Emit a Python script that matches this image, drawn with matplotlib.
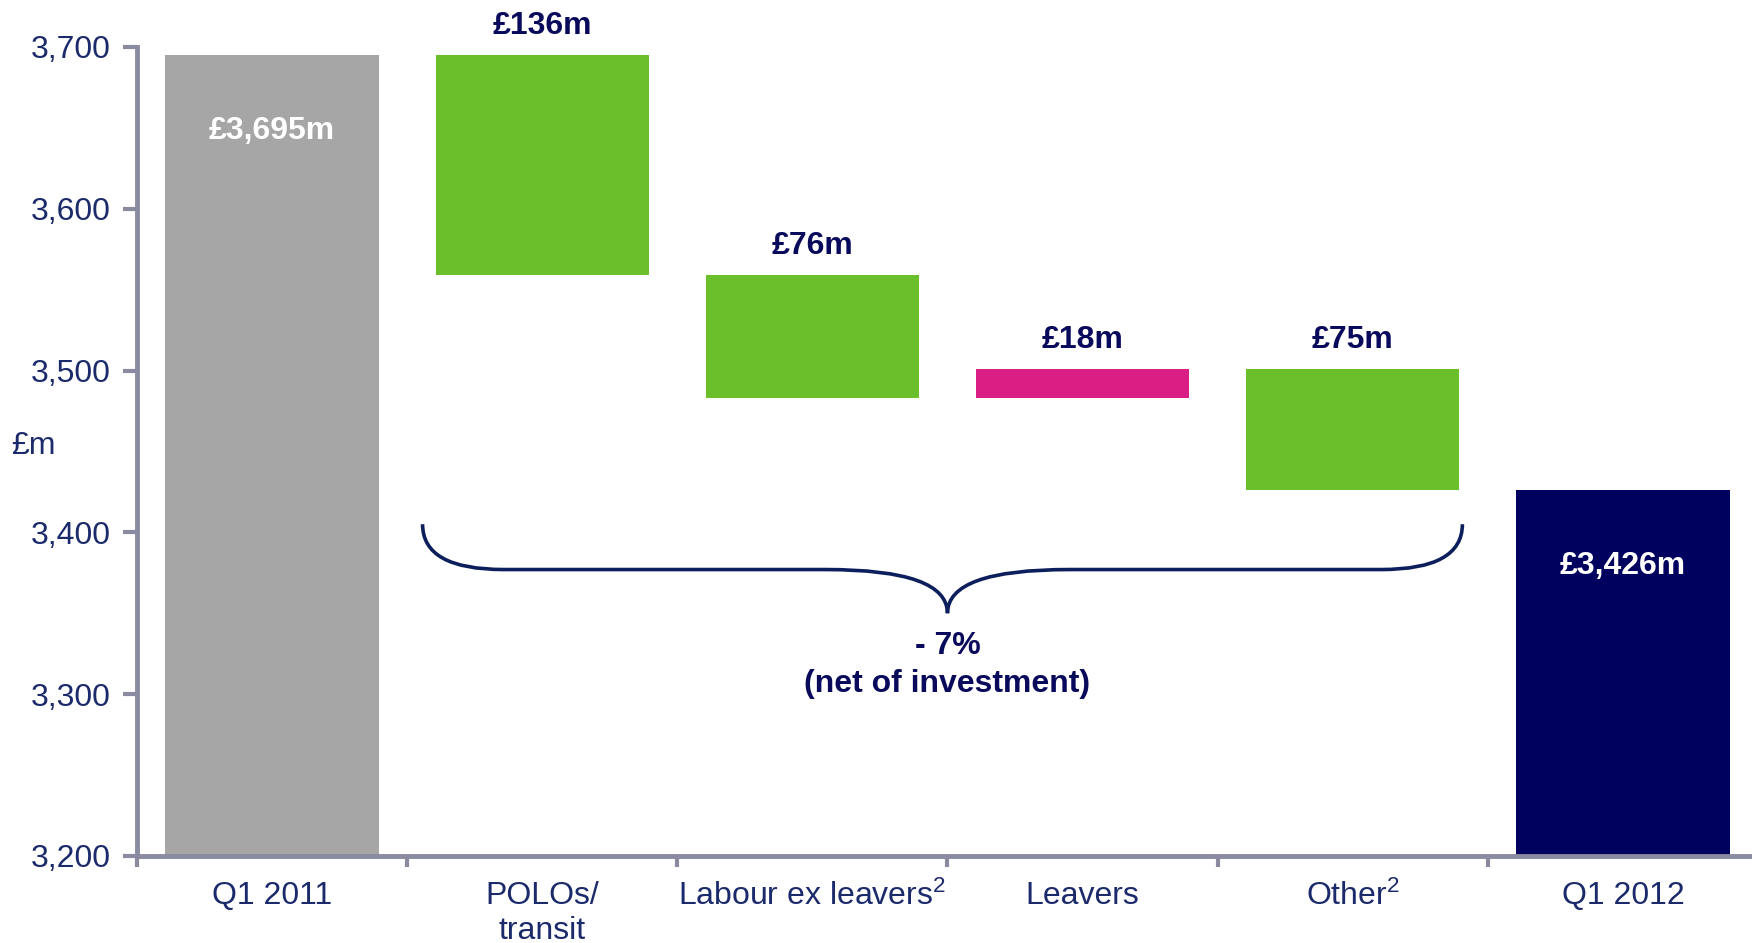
import numpy as np
import matplotlib.pyplot as plt
from matplotlib.path import Path
from matplotlib.patches import PathPatch

plt.rcParams['font.family'] = ['Liberation Sans', 'DejaVu Sans']
plt.rcParams['mathtext.default'] = 'regular'

# data
categories = ['Q1 2011', 'POLOs/\ntransit', 'Labour ex leavers$^{2}$', 'Leavers', 'Other$^{2}$', 'Q1 2012']
start_value = 3695
changes = [-136, -76, 18, -75]
end_value = 3426
labels = ['£3,695m', '£136m', '£76m', '£18m', '£75m', '£3,426m']

navy = '#1b2a6b'
dark = '#0a0a5c'
colors = ['#a6a6a6', '#6abf2a', '#6abf2a', '#d91f84', '#6abf2a', '#00005e']
fs = 23

# waterfall geometry
bottoms, heights = [], []
level = start_value
bottoms.append(3200); heights.append(start_value - 3200)
for c in changes:
    new = level + c
    bottoms.append(min(level, new)); heights.append(abs(c))
    level = new
bottoms.append(3200); heights.append(end_value - 3200)

fig = plt.figure(figsize=(17.52, 9.43), dpi=100)
ax = fig.add_axes([0.0782, 0.0923, 0.9252, 0.858])

x = np.arange(len(categories))
ax.bar(x, heights, bottom=bottoms, width=0.79, color=colors, zorder=2)

ax.set_xlim(-0.5, 5.5)
ax.set_ylim(3200, 3700)

# value labels
for i, lab in enumerate(labels):
    top = bottoms[i] + heights[i]
    if i in (0, len(labels) - 1):
        ax.text(i, top - 47, lab, ha='center', va='center', color='white',
                fontsize=fs, fontweight='bold')
    else:
        ax.text(i, top + 18, lab, ha='center', va='center', color=dark,
                fontsize=fs, fontweight='bold')

# brace across the changes
xl, xr, xm = 0.557, 4.406, 2.5
yt, yh, yb = 3405, 3377, 3350
verts = [(xl, yt), (xl, yh), (xl + 0.3, yh), (xl + 0.3, yh),
         (xm - 0.45, yh), (xm - 0.45, yh),
         (xm, yh), (xm, yb),
         (xm, yh), (xm + 0.45, yh),
         (xm + 0.45, yh), (xr - 0.3, yh),
         (xr - 0.3, yh), (xr, yh), (xr, yt)]
codes = [Path.MOVETO, Path.CURVE3, Path.CURVE3, Path.LINETO,
         Path.LINETO, Path.LINETO,
         Path.CURVE3, Path.CURVE3,
         Path.CURVE3, Path.CURVE3,
         Path.LINETO, Path.LINETO,
         Path.LINETO, Path.CURVE3, Path.CURVE3]
ax.add_patch(PathPatch(Path(verts, codes), fill=False, edgecolor='#0d1e5c', lw=2.6))
ax.text(xm, 3330, '- 7%', ha='center', va='center', color=dark, fontsize=fs, fontweight='bold')
ax.text(xm, 3306, '(net of investment)', ha='center', va='center', color=dark,
        fontsize=fs, fontweight='bold')

# axes styling
for s in ['top', 'right']:
    ax.spines[s].set_visible(False)
for s in ['left', 'bottom']:
    ax.spines[s].set_color('#8a8aa0')
    ax.spines[s].set_linewidth(3.5)

ax.set_yticks([3200, 3300, 3400, 3500, 3600, 3700])
ax.set_yticklabels(['3,200', '3,300', '3,400', '3,500', '3,600', '3,700'])
ax.tick_params(axis='y', length=10, width=3, color='#8a8aa0', labelcolor=navy,
               labelsize=fs, pad=9)

ax.set_xticks(x)
ax.set_xticklabels(categories)
ax.tick_params(axis='x', which='major', length=0, labelcolor=navy, labelsize=fs, pad=18)
ax.set_xticks(np.arange(-0.5, 5.6, 1), minor=True)
ax.tick_params(axis='x', which='minor', length=8, width=3, color='#8a8aa0')

fig.text(0.019, 0.527, '£m', ha='center', va='center', color=navy, fontsize=fs)

fig.savefig('out.png', dpi=100)
